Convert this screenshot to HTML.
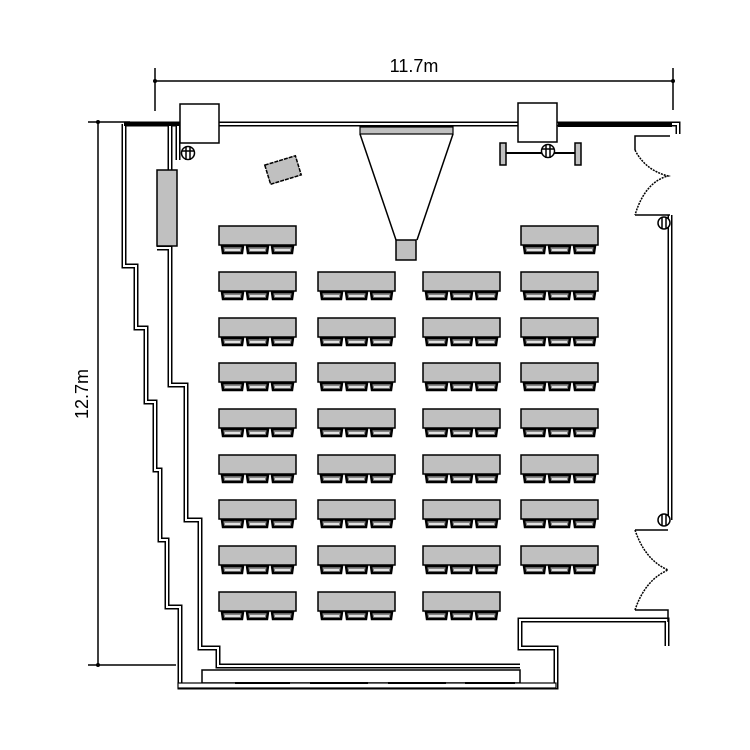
<!DOCTYPE html>
<html><head><meta charset="utf-8"><style>body{margin:0;background:#fff}svg{display:block}</style></head>
<body>
<svg width="750" height="750" viewBox="0 0 750 750" xmlns="http://www.w3.org/2000/svg" font-family="Liberation Sans, sans-serif">
<defs>
<g id="t">
<rect x="0" y="0" width="77" height="19" fill="#c0c0c0" stroke="#000" stroke-width="1.5"/>
<path d="M3 20h21l-1 7h-19z M28 20h21l-1 7h-19z M53 20h21l-1 7h-19z" fill="#888" stroke="#000" stroke-width="2.5"/>
<path d="M6 24h15M31 24h15M56 24h15" stroke="#fff" stroke-width="1.5"/>
</g>
</defs>
<g stroke="#000" fill="none" stroke-width="1.5">
<path d="M155 81H673M155 68V111M673 68V110M98 122V665M88 122H130M88 665H176"/>
</g>
<circle cx="155" cy="81" r="2" fill="#000"/><circle cx="673" cy="81" r="2" fill="#000"/>
<circle cx="98" cy="122" r="2" fill="#000"/><circle cx="98" cy="665" r="2" fill="#000"/>
<text x="414" y="72" font-size="18" text-anchor="middle">11.7m</text>
<text x="0" y="0" font-size="18" text-anchor="middle" transform="translate(88,394) rotate(-90)">12.7m</text>

<g fill="none" stroke-linejoin="miter">
<g stroke="#000" stroke-width="5">
<path d="M124 124H678V134"/>
<path d="M178 124V160"/>
<path d="M124 124V266H136V328H146V402H155V470H160V540H167V607H180V687H556V648H520V620H667V646"/>
<path d="M170 124V240 M157 248H170V385H186V520H200V648H218V666H520"/>
<path d="M670 215V520"/>
<path d="M202 676H520"/>
</g>
<g stroke="#fff" stroke-width="2">
<path d="M124 124H678V134"/>
<path d="M178 124V160"/>
<path d="M124 124V266H136V328H146V402H155V470H160V540H167V607H180V687H556V648H520V620H667V646"/>
<path d="M170 124V240 M157 248H170V385H186V520H200V648H218V666H520"/>
<path d="M670 215V520"/>
<path d="M202 676H520"/>
</g>
</g>
<path d="M124 124H180M558 125H672" stroke="#000" stroke-width="4"/>
<rect x="202" y="670" width="318" height="13" fill="#fff" stroke="#000" stroke-width="1.5"/>
<rect x="178" y="683" width="378" height="5" fill="#fff" stroke="#000" stroke-width="1.2"/>
<path d="M235 683h55M310 683h58M388 683h58M465 683h50" stroke="#000" stroke-width="2"/>
<rect x="180" y="104" width="39" height="39" fill="#fff" stroke="#000" stroke-width="1.5"/>
<rect x="518" y="103" width="39" height="39" fill="#fff" stroke="#000" stroke-width="1.5"/>
<rect x="157" y="170" width="20" height="76" fill="#c0c0c0" stroke="#000" stroke-width="1.5"/>
<rect x="267" y="160" width="32" height="20" fill="#c0c0c0" stroke="#000" stroke-width="1.5" stroke-dasharray="4 1" transform="rotate(-17 283 170)"/>
<rect x="360" y="127" width="93" height="7" fill="#c0c0c0" stroke="#000" stroke-width="1.2"/>
<path d="M360 134L396 240M453 134L417 240" stroke="#000" stroke-width="1.5"/>
<rect x="396" y="240" width="20" height="20" fill="#c0c0c0" stroke="#000" stroke-width="1.5"/>
<path d="M503 153H578" stroke="#000" stroke-width="2"/>
<rect x="500" y="143" width="6" height="22" fill="#c0c0c0" stroke="#000" stroke-width="1.5"/>
<rect x="575" y="143" width="6" height="22" fill="#c0c0c0" stroke="#000" stroke-width="1.5"/>
<g fill="#fff" stroke="#000" stroke-width="1.5">
<circle cx="188" cy="153" r="6.5"/><path d="M186 147v13M190 147v13M182 151h12"/>
<circle cx="548" cy="151" r="6.5"/><path d="M546 145v13M550 145v13M542 149h12"/>
<circle cx="664" cy="223" r="6"/><path d="M662 217v12M666 217v12"/>
<circle cx="664" cy="520" r="6"/><path d="M662 514v12M666 514v12"/>
</g>
<g fill="none" stroke="#000" stroke-width="1.5">
<path d="M670 136H635V150 M635 215H670"/>
<path d="M635 150Q645 170 668 176 Q645 182 635 215" stroke-dasharray="2 1"/>
<path d="M635 530H668 M635 610H668V622"/>
<path d="M635 530Q645 560 668 570 Q645 580 635 610" stroke-dasharray="2 1"/>
</g>
<use href="#t" x="219" y="226"/><use href="#t" x="521" y="226"/>
<use href="#t" x="219" y="272"/><use href="#t" x="318" y="272"/><use href="#t" x="423" y="272"/><use href="#t" x="521" y="272"/>
<use href="#t" x="219" y="318"/><use href="#t" x="318" y="318"/><use href="#t" x="423" y="318"/><use href="#t" x="521" y="318"/>
<use href="#t" x="219" y="363"/><use href="#t" x="318" y="363"/><use href="#t" x="423" y="363"/><use href="#t" x="521" y="363"/>
<use href="#t" x="219" y="409"/><use href="#t" x="318" y="409"/><use href="#t" x="423" y="409"/><use href="#t" x="521" y="409"/>
<use href="#t" x="219" y="455"/><use href="#t" x="318" y="455"/><use href="#t" x="423" y="455"/><use href="#t" x="521" y="455"/>
<use href="#t" x="219" y="500"/><use href="#t" x="318" y="500"/><use href="#t" x="423" y="500"/><use href="#t" x="521" y="500"/>
<use href="#t" x="219" y="546"/><use href="#t" x="318" y="546"/><use href="#t" x="423" y="546"/><use href="#t" x="521" y="546"/>
<use href="#t" x="219" y="592"/><use href="#t" x="318" y="592"/><use href="#t" x="423" y="592"/>
</svg>
</body></html>
